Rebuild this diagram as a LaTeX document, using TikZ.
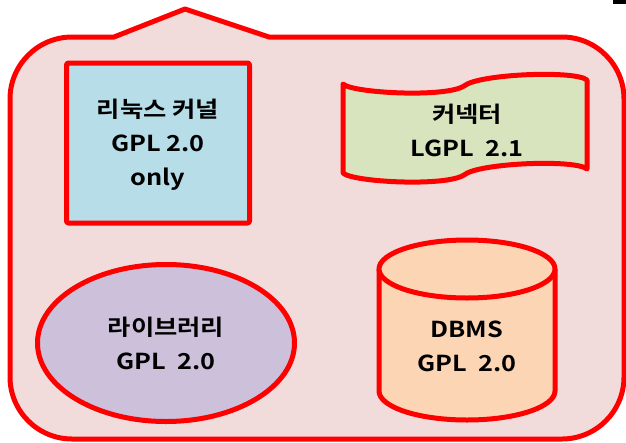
\documentclass[tikz,border=0pt]{standalone}
\usepackage{fontspec}
\setmainfont{Noto Sans CJK KR}[BoldFont={* Bold}, FakeStretch=1.15]
\usetikzlibrary{shapes.geometric}

\definecolor{linered}{HTML}{FF0000}
\definecolor{bgpink}{HTML}{F2DCDB}
\definecolor{kernelblue}{HTML}{B7DEE8}
\definecolor{conngreen}{HTML}{D7E4BD}
\definecolor{libviolet}{HTML}{CCC0DA}
\definecolor{dbmsorange}{HTML}{FCD5B5}

\begin{document}
\begin{tikzpicture}[
      x=1pt, y=-1pt,
      edge/.style={draw=linered, line width=5pt, line join=round},
      lbl/.style={font=\fontsize{22}{34}\selectfont\bfseries, align=center, inner sep=0pt},
      kernelbox/.style={edge, fill=kernelblue, rounded corners=2pt, minimum width=183pt, minimum height=160pt},
      libshape/.style={edge, ellipse, fill=libviolet, minimum width=257pt, minimum height=157pt}
    ]
    \useasboundingbox (0,0) rectangle (626,442);

    % ===== outer frame with the peak on top =====
    \fill (613,0) rectangle (626,4);
    \draw[edge, fill=bgpink] (10,99) .. controls (10,64.8) and (37.8,37) .. (72,37)
      -- (114,37) -- (185,9) -- (269,37) -- (562,37)
      .. controls (596.2,37) and (624,64.8) .. (624,99)
      -- (624,377) .. controls (624,411.2) and (596.2,439) .. (562,439)
      -- (72,439) .. controls (37.8,439) and (10,411.2) .. (10,377) -- cycle;

    % ===== kernel (top left) =====
    \node[kernelbox] (kernel) at (158,143) {};
    \node[lbl] (kerneltxt) at ([yshift=-2pt]kernel.center) {리눅스 커널\\GPL 2.0\\only};

    % ===== connector (wave, top right) =====
    \draw[edge, fill=conngreen] (343,84) .. controls (352,93) and (445,98) .. (464,86)
      .. controls (478,74) and (575,70) .. (587,80)
      -- (587,169) .. controls (575,159) and (478,163) .. (464,175)
      .. controls (445,187) and (352,182) .. (343,173) -- cycle;
    \node[lbl] (conn) at (467,130) {커넥터\\LGPL~~2.1};

    % ===== library (bottom left) =====
    \node[libshape] (lib) at (166,343) {};
    \node[lbl] (libtxt) at (lib.center) {라이브러리\\GPL~~2.0};

    % ===== DBMS (cylinder, bottom right) =====
    \draw[edge, fill=dbmsorange] (379,269) -- (379,391)
      arc[start angle=180, end angle=0, x radius=88, y radius=29] -- (555,269);
    \draw[edge, fill=dbmsorange] (467,269) ellipse [x radius=88, y radius=29];
    \node[lbl] (dbms) at (467,346) {DBMS\\GPL~~2.0};
\end{tikzpicture}
\end{document}
